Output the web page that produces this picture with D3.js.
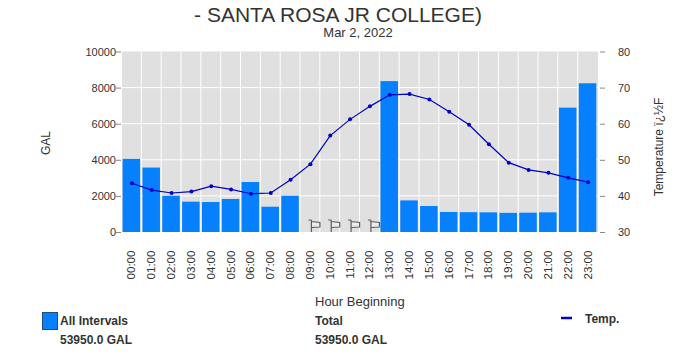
<!DOCTYPE html>
<html>
<head>
<meta charset="utf-8">
<script src="https://cdn.jsdelivr.net/npm/d3@7"></script>
<style>
  html, body { margin: 0; padding: 0; background: #fff; overflow: hidden; }
  svg { display: block; font-family: "Liberation Sans", Arial, sans-serif; }
  .axis text { font-size: 11px; fill: #333; }
  .axis path { display: none; }
  .axis line { stroke: #888; }
  .x-axis text { font-size: 11.6px; }
  .legend { font-size: 12px; font-weight: bold; fill: #333; }
</style>
</head>
<body>
<svg id="chart" width="679" height="362"></svg>
<script>
// values
const hours = ['00:00', '01:00', '02:00', '03:00', '04:00', '05:00', '06:00', '07:00', '08:00', '09:00', '10:00', '11:00',
  '12:00', '13:00', '14:00', '15:00', '16:00', '17:00', '18:00', '19:00', '20:00', '21:00', '22:00', '23:00'];
const gallons = [4050, 3570, 2010, 1680, 1660, 1830, 2770, 1400, 2010, 0, 0, 0,
  0, 8360, 1750, 1440, 1110, 1100, 1090, 1060, 1070, 1090, 6890, 8240];
const temps = [43.5, 41.6, 40.8, 41.2, 42.7, 41.8, 40.6, 40.8, 44.5, 48.8, 56.7, 61.2,
  64.8, 68, 68.2, 66.7, 63.3, 59.7, 54.3, 49.2, 47.2, 46.4, 45, 43.8];
const flaggedHours = ['09:00', '10:00', '11:00', '12:00'];
const galTicks = [0, 2000, 4000, 6000, 8000, 10000];
const tempTicks = [30, 40, 50, 60, 70, 80];

const svg = d3.select('#chart');
const plotLeft = 122, plotRight = 598, plotTop = 51.5, plotBottom = 232;

const x = d3.scaleBand().domain(hours).range([plotLeft, plotRight]);
const yGal = d3.scaleLinear().domain([0, 10000]).range([plotBottom, plotTop]);
const yTemp = d3.scaleLinear().domain([30, 80]).range([plotBottom, plotTop]);

// plot background and grid
svg.append('rect')
  .attr('x', plotLeft).attr('y', plotTop)
  .attr('width', plotRight - plotLeft).attr('height', plotBottom - plotTop)
  .attr('fill', '#e0e0e0');

svg.append('g').selectAll('line')
  .data(galTicks.slice(1, -1))
  .enter().append('line')
  .attr('x1', plotLeft).attr('x2', plotRight)
  .attr('y1', d => yGal(d)).attr('y2', d => yGal(d))
  .attr('stroke', '#fff');

svg.append('g').selectAll('line')
  .data(hours.slice(1))
  .enter().append('line')
  .attr('x1', d => x(d) - 0.5).attr('x2', d => x(d) - 0.5)
  .attr('y1', plotTop).attr('y2', plotBottom)
  .attr('stroke', '#fff');

// bars
svg.append('g').selectAll('rect')
  .data(hours.filter((d, i) => gallons[i] > 0))
  .enter().append('rect')
  .attr('x', d => x(d) + 0.6)
  .attr('y', d => yGal(gallons[hours.indexOf(d)]))
  .attr('width', x.bandwidth() - 2.3)
  .attr('height', d => plotBottom - yGal(gallons[hours.indexOf(d)]))
  .attr('fill', '#0680fc');

// flags for the hours with no reading
svg.append('g').selectAll('path')
  .data(flaggedHours)
  .enter().append('path')
  .attr('transform', d => `translate(${x(d) + x.bandwidth() / 2 - 2},219)`)
  .attr('d', 'M0 1H3M3 1V13M3 2.5L11.5 3.5V8L3 8.5')
  .attr('fill', '#ececec')
  .attr('stroke', '#5c5c5c')
  .attr('stroke-width', 1.2);

// temperature line
const tempLine = d3.line()
  .x((d, i) => x(hours[i]) + x.bandwidth() / 2)
  .y(d => yTemp(d));

svg.append('path')
  .datum(temps)
  .attr('d', tempLine)
  .attr('fill', 'none')
  .attr('stroke', '#0000c8')
  .attr('stroke-width', 1.2);

svg.append('g').selectAll('circle')
  .data(temps)
  .enter().append('circle')
  .attr('cx', (d, i) => x(hours[i]) + x.bandwidth() / 2)
  .attr('cy', d => yTemp(d))
  .attr('r', 2)
  .attr('fill', '#0000c8');

// axes
svg.append('g')
  .attr('class', 'axis')
  .attr('transform', `translate(${plotLeft - 1},0)`)
  .call(d3.axisLeft(yGal).tickValues(galTicks).tickSize(5).tickPadding(0).tickFormat(d3.format('d')));

svg.append('g')
  .attr('class', 'axis')
  .attr('transform', `translate(${plotRight + 2},0)`)
  .call(d3.axisRight(yTemp).tickValues(tempTicks).tickSize(5).tickPadding(13));

const xAxis = svg.append('g')
  .attr('class', 'axis x-axis')
  .attr('transform', `translate(0,${plotBottom})`)
  .call(d3.axisBottom(x).tickSize(0));

xAxis.selectAll('text')
  .attr('transform', 'rotate(-90)')
  .attr('x', -18.5)
  .attr('y', -0.5)
  .attr('dy', '0.35em')
  .attr('text-anchor', 'end');

// titles
svg.append('text')
  .attr('x', 338).attr('y', 21.5)
  .attr('text-anchor', 'middle')
  .attr('font-size', 21)
  .attr('fill', '#333')
  .text('- SANTA ROSA JR COLLEGE)');

svg.append('text')
  .attr('x', 358).attr('y', 37)
  .attr('text-anchor', 'middle')
  .attr('font-size', 13)
  .attr('fill', '#333')
  .text('Mar 2, 2022');

svg.append('text')
  .attr('transform', 'translate(50,143) rotate(-90)')
  .attr('text-anchor', 'middle')
  .attr('font-size', 12)
  .attr('fill', '#333')
  .text('GAL');

svg.append('text')
  .attr('transform', 'translate(663,147) rotate(-90)')
  .attr('text-anchor', 'middle')
  .attr('font-size', 12)
  .attr('fill', '#333')
  .text('Temperature ï¿½F');

svg.append('text')
  .attr('x', 315).attr('y', 306)
  .attr('font-size', 13)
  .attr('fill', '#333')
  .text('Hour Beginning');

// legend
svg.append('rect')
  .attr('x', 42.5).attr('y', 312.5)
  .attr('width', 15).attr('height', 17)
  .attr('fill', '#0680fc')
  .attr('stroke', '#1c4f80');

const legendRows = [
  ['All Intervals', 60, 325],
  ['53950.0 GAL', 60, 344],
  ['Total', 315, 325],
  ['53950.0 GAL', 315, 344],
  ['Temp.', 585, 323]
];

svg.append('g').selectAll('text')
  .data(legendRows)
  .enter().append('text')
  .attr('class', 'legend')
  .attr('x', d => d[1])
  .attr('y', d => d[2])
  .text(d => d[0]);

svg.append('line')
  .attr('x1', 561).attr('x2', 572)
  .attr('y1', 318).attr('y2', 318)
  .attr('stroke', '#0000c8')
  .attr('stroke-width', 2.5);
</script>
</body>
</html>
